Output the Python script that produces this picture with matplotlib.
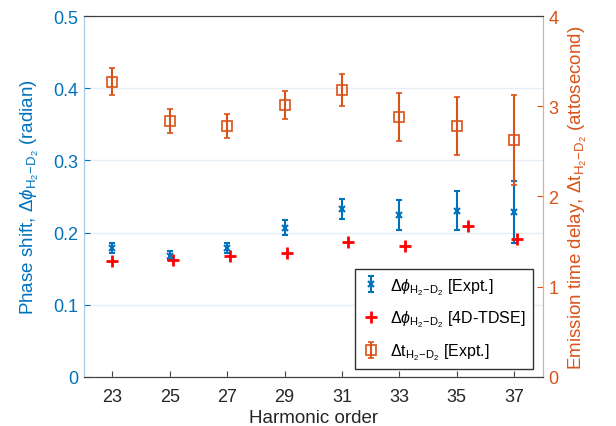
import matplotlib.pyplot as plt

plt.rcParams['font.family'] = ['Liberation Sans', 'DejaVu Sans']
plt.rcParams['mathtext.fontset'] = 'custom'
plt.rcParams['mathtext.rm'] = 'Liberation Sans'
plt.rcParams['mathtext.it'] = 'Liberation Sans:italic'

harmonics = [23, 25, 27, 29, 31, 33, 35, 37]
phase_expt = [0.178, 0.168, 0.178, 0.207, 0.233, 0.224, 0.230, 0.229]
phase_expt_err = [0.007, 0.006, 0.007, 0.010, 0.014, 0.021, 0.027, 0.043]
tdse_harmonics = [23.0, 25.1, 27.1, 29.1, 31.2, 33.2, 35.4, 37.1]
phase_tdse = [0.161, 0.162, 0.168, 0.172, 0.187, 0.181, 0.209, 0.191]
delay_expt = [3.27, 2.84, 2.78, 3.01, 3.18, 2.88, 2.78, 2.63]
delay_expt_err = [0.15, 0.135, 0.135, 0.155, 0.18, 0.27, 0.32, 0.50]

blue = '#0072BD'
orange = '#D95319'

fig = plt.figure(figsize=(6.16, 4.27), dpi=100)
ax1 = fig.add_axes([0.136, 0.115, 0.745, 0.845])
ax2 = ax1.twinx()

h1 = ax1.errorbar(harmonics, phase_expt, yerr=phase_expt_err, ls='none', marker='x',
                  ms=4, mew=1.5, color=blue, elinewidth=1.5, capsize=2.5, capthick=1.5)
h2, = ax1.plot(tdse_harmonics, phase_tdse, ls='none', marker='+', ms=9, mew=2, color='red')
h3 = ax2.errorbar(harmonics, delay_expt, yerr=delay_expt_err, ls='none', marker='s',
                  ms=7, mfc='none', mew=1.2, color=orange, elinewidth=1.5, capsize=2.5, capthick=1.5)

ax1.set_xlim(22, 38)
ax1.set_xticks(harmonics)
ax1.set_ylim(0, 0.5)
ax1.set_yticks([0, 0.1, 0.2, 0.3, 0.4, 0.5])
ax1.set_yticklabels(['0', '0.1', '0.2', '0.3', '0.4', '0.5'])
ax2.set_ylim(0, 4)
ax2.set_yticks([0, 1, 2, 3, 4])
ax1.yaxis.grid(True, color='#e6eef6', lw=1)
ax1.set_axisbelow(True)

for ax in (ax1, ax2):
    ax.tick_params(direction='in', labelsize=13, length=4, pad=4)
    for s in ('top', 'bottom'):
        ax.spines[s].set_color('#404040')
    ax.spines['left'].set_color('#a9c9e6')
    ax.spines['right'].set_color('#f0a88c')
ax1.tick_params(axis='y', colors=blue, labelcolor=blue)
ax1.tick_params(axis='x', colors='#404040', labelcolor='#262626', pad=8)
ax2.tick_params(axis='y', colors=orange, labelcolor=orange)

ax1.set_xlabel('Harmonic order', fontsize=13.5, color='#262626', labelpad=3)
ax1.set_ylabel(r'Phase shift, $\Delta\phi_{\mathrm{H_2\!-\!D_2}}$ (radian)',
               fontsize=13.5, color=blue, labelpad=9)
ax2.set_ylabel(r'Emission time delay, $\Delta\mathrm{t}_{\mathrm{H_2\!-\!D_2}}$ (attosecond)',
               fontsize=13.5, color=orange, labelpad=6)

leg = ax2.legend([h1, h2, h3],
                 [r'$\Delta\phi_{\mathrm{H_2\!-\!D_2}}$ [Expt.]',
                  r'$\Delta\phi_{\mathrm{H_2\!-\!D_2}}$ [4D-TDSE]',
                  r'$\Delta\mathrm{t}_{\mathrm{H_2\!-\!D_2}}$ [Expt.]'],
                 loc='lower right', bbox_to_anchor=(0.978, 0.022), borderaxespad=0,
                 fontsize=11.5, fancybox=False, framealpha=1, edgecolor='#333333',
                 borderpad=0.45, labelspacing=0.75, handlelength=1.0, handletextpad=0.7)
leg.get_frame().set_linewidth(1)

fig.savefig('out.png', dpi=100)
